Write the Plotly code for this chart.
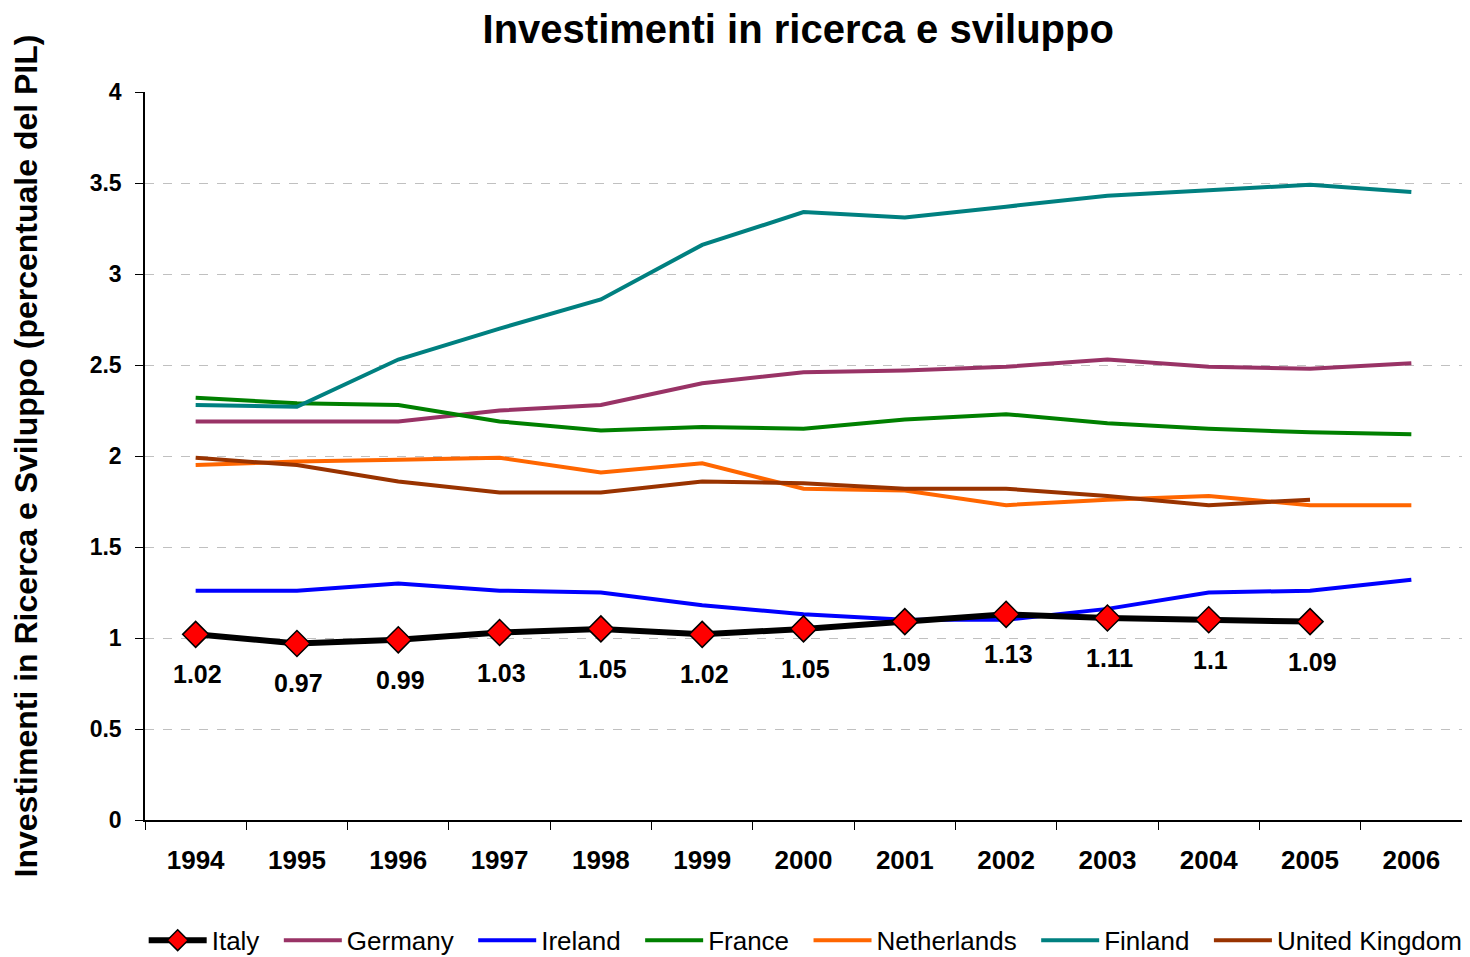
import plotly.graph_objects as go

years = [str(y) for y in range(1994, 2007)]

italy = [1.02, 0.97, 0.99, 1.03, 1.05, 1.02, 1.05, 1.09, 1.13, 1.11, 1.10, 1.09]
germany = [2.19, 2.19, 2.19, 2.25, 2.28, 2.40, 2.46, 2.47, 2.49, 2.53, 2.49, 2.48, 2.51]
ireland = [1.26, 1.26, 1.30, 1.26, 1.25, 1.18, 1.13, 1.10, 1.10, 1.16, 1.25, 1.26, 1.32]
france = [2.32, 2.29, 2.28, 2.19, 2.14, 2.16, 2.15, 2.20, 2.23, 2.18, 2.15, 2.13, 2.12]
netherlands = [1.95, 1.97, 1.98, 1.99, 1.91, 1.96, 1.82, 1.81, 1.73, 1.76, 1.78, 1.73, 1.73]
finland = [2.28, 2.27, 2.53, 2.70, 2.86, 3.16, 3.34, 3.31, 3.37, 3.43, 3.46, 3.49, 3.45]
uk = [1.99, 1.95, 1.86, 1.80, 1.80, 1.86, 1.85, 1.82, 1.82, 1.78, 1.73, 1.76]

y_ticks = [0, 0.5, 1, 1.5, 2, 2.5, 3, 3.5, 4]
y_tick_labels = ["0", "0.5", "1", "1.5", "2", "2.5", "3", "3.5", "4"]

FONT = "Liberation Sans, Arial, sans-serif"
PAD = "\u00a0\u00a0"  # extra spacing between legend entries

others = [
    ("Germany", germany, "#993366"),
    ("Ireland", ireland, "#0000FF"),
    ("France", france, "#008000"),
    ("Netherlands", netherlands, "#FF6600"),
    ("Finland", finland, "#008080"),
    ("United Kingdom", uk, "#993300"),
]

fig = go.Figure()
for i, (name, vals, col) in enumerate(others):
    label = name if name == "United Kingdom" else name + PAD
    fig.add_trace(go.Scatter(
        x=years[:len(vals)], y=vals, name=label, mode="lines",
        line=dict(color=col, width=4), legendrank=i + 2,
    ))

fig.add_trace(go.Scatter(
    x=years[:len(italy)], y=italy, name="Italy" + PAD, mode="lines+markers",
    line=dict(color="black", width=6),
    marker=dict(symbol="diamond", size=20, color="#FF0000",
                line=dict(color="black", width=1.5)),
    legendrank=1,
))

# data labels for Italy (category index positions)
for i, v in enumerate(italy):
    fig.add_annotation(
        x=i, y=v, xref="x", yref="y", text=f"<b>{v:g}</b>", showarrow=False,
        yshift=-40, xshift=2,
        font=dict(family=FONT, size=25, color="black"),
    )

# page body has an 8px margin: figure is drawn from (8, 8)
W, H = 1462, 949
fig.update_layout(
    width=W, height=H,
    paper_bgcolor="white", plot_bgcolor="white",
    margin=dict(l=137, r=8, t=84, b=137, autoexpand=False),
    font=dict(family=FONT, color="black"),
    title=dict(
        text="<b>Investimenti in ricerca e sviluppo</b>",
        x=0.496, xref="paper", xanchor="center",
        y=1 - 21 / H, yref="container", yanchor="middle",
        font=dict(family=FONT, size=40, color="black"),
    ),
    showlegend=True,
    legend=dict(
        orientation="h", x=-0.001, xanchor="left", xref="paper",
        y=-0.133, yanchor="top",
        font=dict(family=FONT, size=26, color="black"),
        itemwidth=58, tracegroupgap=0,
    ),
)

fig.update_xaxes(
    type="category", range=[-0.5, 12.5], automargin=False,
    showline=True, linecolor="black", linewidth=1.5,
    ticks="outside", ticklen=8, tickcolor="black", tickwidth=1,
    tickson="boundaries", showgrid=False, zeroline=False,
    ticklabelstandoff=16,
    tickfont=dict(family=FONT, size=26, color="black", weight="bold"),
)

fig.update_yaxes(
    range=[0, 4], tickvals=y_ticks, ticktext=y_tick_labels, automargin=False,
    showline=True, linecolor="black", linewidth=1.5,
    ticks="outside", ticklen=8, tickcolor="black",
    showgrid=True, gridcolor="#C0C0C0", griddash="dash", gridwidth=1,
    zeroline=False, ticklabelstandoff=9,
    tickfont=dict(family=FONT, size=23, color="black", weight="bold"),
    title=dict(
        text="<b>Investimenti in Ricerca e Sviluppo (percentuale del PIL)</b>",
        font=dict(family=FONT, size=32, color="black"),
        standoff=55,
    ),
)

fig.write_html("out.html")
